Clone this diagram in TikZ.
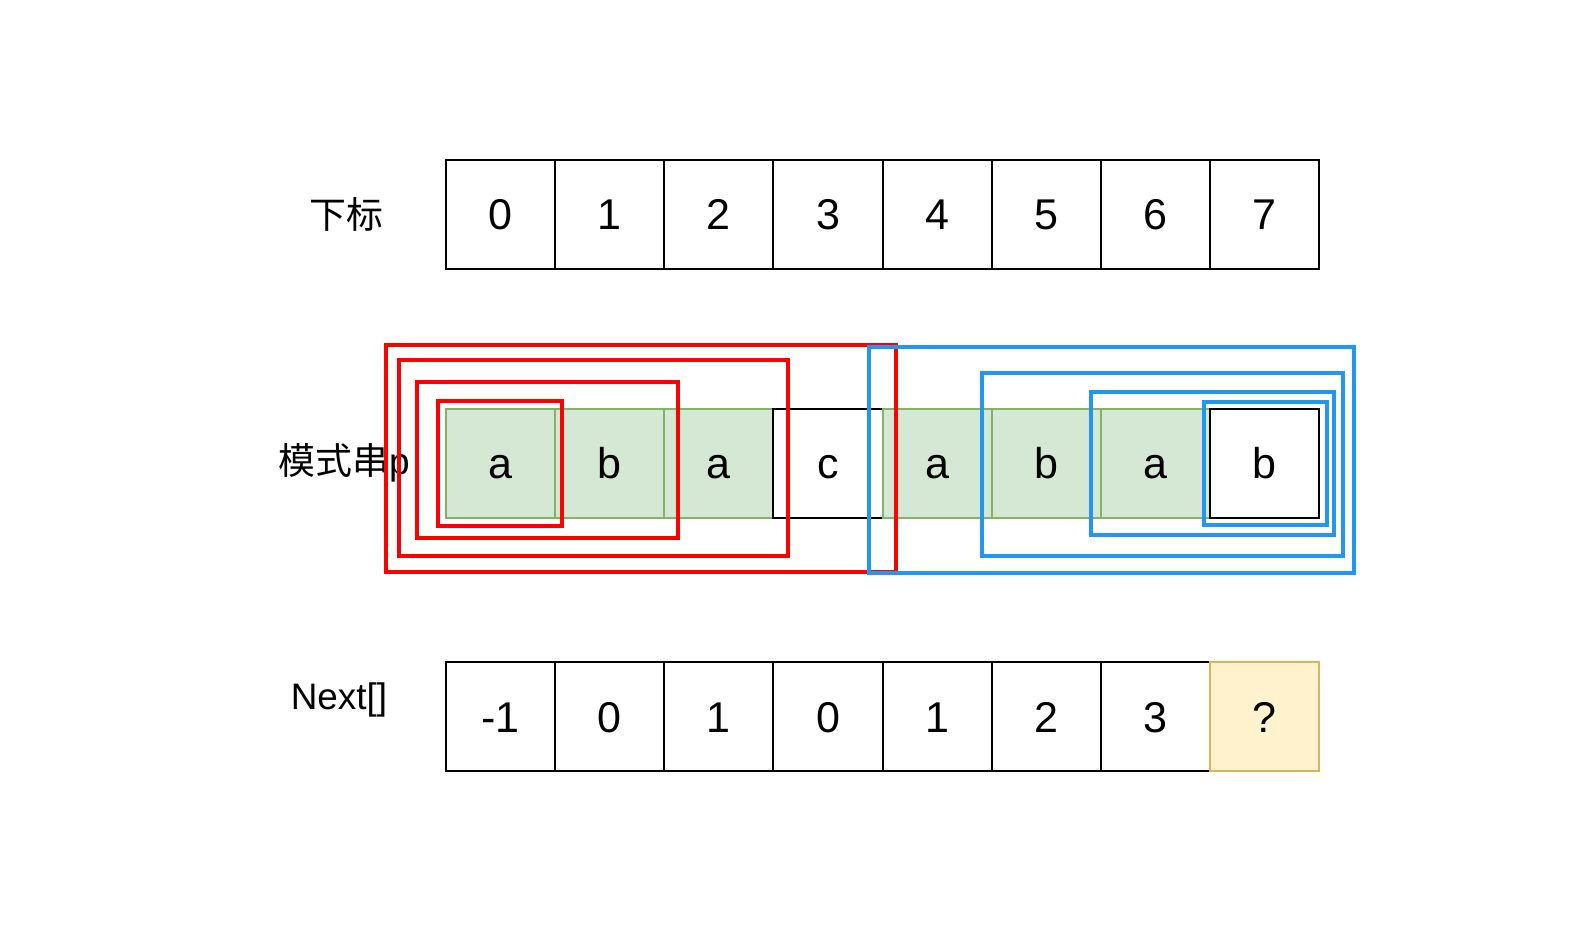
\documentclass[tikz,border=0pt]{standalone}
\usepackage{fontspec}
\setmainfont{Liberation Sans}
\newfontfamily\cjk{Noto Sans CJK SC}
\usetikzlibrary{positioning}

\definecolor{cellgreen}{HTML}{D5E8D4}
\definecolor{cellgreenline}{HTML}{82B366}
\definecolor{cellyellow}{HTML}{FFF2CC}
\definecolor{cellyellowline}{HTML}{D6B656}
\definecolor{framered}{HTML}{FF0000}
\definecolor{frameblue}{HTML}{2196F3}

\begin{document}
\begin{tikzpicture}[x=0.02cm, y=-0.02cm,
    cell/.style={draw=black, line width=1.1pt, minimum size=2.183cm,
        inner sep=0pt, outer sep=0pt, text height=17.5pt, text depth=0pt,
        font=\fontsize{24.5}{29}\selectfont},
    match/.style={cell, fill=cellgreen, draw=cellgreenline},
    ask/.style={cell, fill=cellyellow, draw=cellyellowline},
    lbl/.style={font=\fontsize{21}{25}\selectfont, inner sep=0pt},
    redbox/.style={draw=framered, line width=2.3pt},
    bluebox/.style={draw=frameblue, line width=2.3pt}
  ]
  \useasboundingbox (0,0) rectangle (1578,943);

  % indices
  \node[cell] (i0) at (500.6,214.5) {0};
  \foreach \k [count=\j from 0] in {1,...,7}
    \node[cell, right=0pt of i\j] (i\k) {\k};

  % pattern p
  \node[match, below=2.79cm of i0] (p0) {a};
  \foreach \s/\t [count=\k from 1, count=\j from 0] in
      {match/b, match/a, cell/c, match/a, match/b, match/a, cell/b}
    \node[\s, right=0pt of p\j] (p\k) {\t};

  % next array
  \node[cell, below=2.89cm of p0] (n0) {-1};
  \foreach \t [count=\k from 1, count=\j from 0] in {0,1,0,1,2,3}
    \node[cell, right=0pt of n\j] (n\k) {\t};
  \node[ask, right=0pt of n6] (n7) {?};

  % row labels
  \node[lbl] (idxlbl) at (346,214) {\cjk 下标};
  \node[lbl] (patlbl) at (344,463) {{\cjk 模式串}p};
  \node[lbl] (nextlbl) at (339,700) {Next[]};

  % prefixes
  \draw[redbox] (385.7,345) rectangle (895.7,571.7);
  \draw[redbox] (399,360) rectangle (788.3,556);
  \draw[redbox] (416.7,381.7) rectangle (678,537.7);
  \draw[redbox] (438.3,401) rectangle (562.3,525.7);

  % suffixes
  \draw[bluebox] (869,346.7) rectangle (1354,572.7);
  \draw[bluebox] (981.7,372.7) rectangle (1343.3,556);
  \draw[bluebox] (1090.7,392.3) rectangle (1334.3,535);
  \draw[bluebox] (1204,402.3) rectangle (1326.7,525);
\end{tikzpicture}
\end{document}
